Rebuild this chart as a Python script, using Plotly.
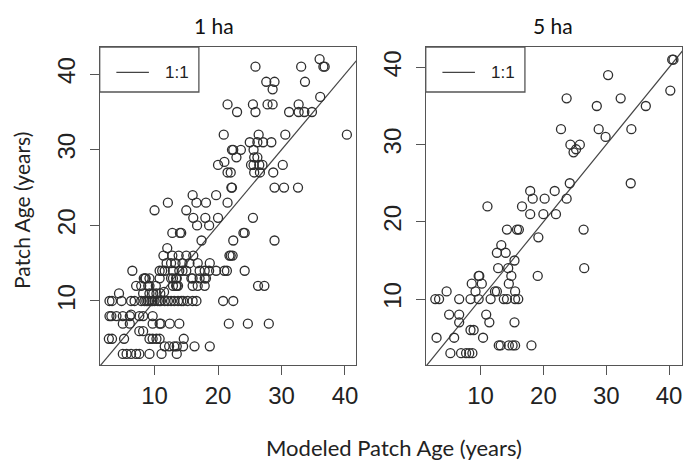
import plotly.graph_objects as go

# ---------------- data ----------------
panel_titles = ["1 ha", "5 ha"]
tick_values = [10, 20, 30, 40]
one_to_one = [0, 50]

ha1_pts = [
    (36, 42),
    (25.9, 41), (33.1, 41), (36.6, 41), (36.8, 41),
    (27.6, 39), (28.9, 39), (33.7, 39),
    (28.6, 38),
    (36.1, 37),
    (21.5, 36), (25.5, 36), (27.8, 36), (28.6, 36), (32.7, 36),
    (23, 35), (25.9, 35), (31.2, 35), (32.7, 35), (33.6, 35), (34.8, 35),
    (20.9, 32), (26.4, 32), (30.6, 32), (40.3, 32),
    (25, 31), (26.2, 31), (27.1, 31), (28.4, 31),
    (22.2, 30), (23.6, 30), (25.6, 30), (22.4, 30),
    (22.9, 29), (25.7, 29), (26.2, 29),
    (20, 28), (21, 28.4), (25.2, 28), (25.6, 28), (26.5, 28), (27, 28), (30.2, 28),
    (21.5, 27), (22, 27), (25.7, 27), (26.6, 27), (28.7, 27),
    (22.1, 25), (28.9, 25), (30.4, 25), (32.6, 25), (22.2, 25),
    (16, 24), (19.7, 24),
    (12.1, 23), (16.6, 23), (18.1, 23), (21.5, 23),
    (10, 22), (15, 22),
    (16.1, 21), (18, 21), (20, 21), (25.5, 21),
    (16.7, 20), (18.6, 20),
    (12.8, 19), (14.2, 19), (24, 19), (24.2, 19), (14.0, 19),
    (17.4, 18), (22.4, 18), (28.9, 18),
    (12, 17),
    (11.4, 16), (12.8, 16), (13.8, 16), (15, 16), (16.1, 16), (21.8, 16), (22.3, 16), (22.0, 16),
    (11.9, 15), (13.3, 15), (14.4, 15), (15.5, 15), (16.8, 15), (18.7, 15), (12.6, 15),
    (6.5, 14), (10.8, 14), (11.6, 14), (12.9, 14), (13.9, 14), (15, 14), (17.1, 14),
    (17.9, 14), (18.6, 14), (19.7, 14), (21, 14), (21.4, 14), (24.2, 14), (11.2, 14), (14.4, 14),
    (8.3, 13), (8.6, 13), (9.2, 13), (10.8, 13), (12.6, 13), (12.9, 13), (13.5, 13),
    (15.8, 13), (16, 13), (17.1, 13), (17.9, 13), (18.1, 13), (8.5, 13), (13.4, 13),
    (7.1, 12), (7.9, 12), (9.2, 12), (12.9, 12), (13.4, 12), (13.7, 12), (16, 12),
    (16.8, 12), (17.9, 12), (26.3, 12), (27.3, 12), (13.5, 12), (9.0, 12), (10.2, 12),
    (4.4, 11), (8.2, 11), (9.2, 11), (10.3, 11), (10.9, 11), (9.8, 11), (11.5, 11.2),
    (2.9, 10), (3.3, 10), (4.8, 10), (6.3, 10), (6.85, 10), (7.9, 10), (8.4, 10),
    (8.95, 10), (9.2, 10), (9.7, 10), (10, 10), (10.8, 10), (11.6, 10), (12.1, 10),
    (12.6, 10), (13.1, 10), (13.7, 10), (14.2, 10), (14.5, 10), (15.2, 10), (16, 10),
    (16.6, 10), (20.8, 10), (22.4, 10), (9.5, 10), (10.5, 10), (11.0, 10), (8.7, 10),
    (2.9, 8), (4, 8), (5, 8), (6.1, 8), (7.6, 8), (8.2, 8), (9.7, 8), (3.2, 8), (6.3, 8.2),
    (5, 7), (6.1, 7), (9.7, 7), (10.8, 7), (11, 7), (12.4, 7), (13.9, 7),
    (21.7, 7), (24.7, 7), (28, 7),
    (7.6, 6), (8.2, 6),
    (2.8, 5), (3.3, 5), (5.2, 5), (9.2, 5), (9.7, 5), (10.3, 5), (10.8, 5), (14.6, 5),
    (11.6, 4), (12.3, 4), (13.1, 4), (13.5, 4), (14.5, 4), (16.3, 4), (18.7, 4),
    (5, 3), (5.6, 3), (6.3, 3), (7.1, 3), (7.6, 3), (9.2, 3), (11.1, 3), (13.5, 3),
]
ha1_modeled = [p[0] for p in ha1_pts]
ha1_observed = [p[1] for p in ha1_pts]

ha5_pts = [
    (40.5, 41), (40.7, 41), (30.3, 39), (23.7, 36), (40.2, 37), (28.5, 35), (32.3, 36),
    (36.3, 35), (22.8, 32), (28.8, 32), (29.9, 31), (34, 32), (24.3, 30), (24.8, 29),
    (25.2, 29.4), (25.8, 30),
    (24.2, 25), (33.9, 25), (17.9, 24), (21.8, 24), (18.3, 23), (20.2, 23), (23.7, 23),
    (11.1, 22), (16.6, 22), (17.9, 21), (20, 21), (22, 21), (14.2, 19), (15.8, 19),
    (16.1, 19), (26.4, 19), (19.2, 18), (13.3, 17), (12.6, 16), (14, 16), (15.4, 15),
    (12.8, 14), (14.4, 14), (26.5, 14), (9.7, 13), (9.8, 13), (14.9, 13), (19.1, 13),
    (8.6, 12), (10.2, 12), (14.5, 12), (4.6, 11), (9.2, 11), (12.3, 11), (12.6, 11),
    (15.5, 11), (2.8, 10), (3.4, 10), (6.6, 10), (8.4, 10), (9.7, 10), (11.6, 10),
    (13.7, 10), (14.2, 10), (15.5, 10), (16, 10), (5, 8), (6.6, 8), (10.9, 8),
    (6.6, 7), (11.4, 7), (15.4, 7), (8.4, 6), (8.9, 6), (3, 5), (5.8, 5), (10.4, 5),
    (12.9, 4), (13.2, 4), (14.5, 4), (15.1, 4), (15.5, 4), (18.1, 4),
    (5.2, 3), (6.9, 3), (7.7, 3), (8.2, 3), (8.7, 3),
]
ha5_modeled = [p[0] for p in ha5_pts]
ha5_observed = [p[1] for p in ha5_pts]

# ---------------- figure ----------------
W, H = 686, 464
fig = go.Figure()

marker = dict(symbol="circle-open", size=9, color="#2e2e2e", line=dict(width=1.3, color="#2e2e2e"))
line_style = dict(color="#444444", width=1.2)

for i, (xs, ys) in enumerate([(ha1_modeled, ha1_observed), (ha5_modeled, ha5_observed)]):
    xa = "x" if i == 0 else "x2"
    ya = "y" if i == 0 else "y2"
    fig.add_trace(go.Scatter(x=one_to_one, y=one_to_one, mode="lines", line=line_style,
                             xaxis=xa, yaxis=ya, showlegend=False, hoverinfo="skip"))
    fig.add_trace(go.Scatter(x=xs, y=ys, mode="markers", marker=marker, cliponaxis=False,
                             xaxis=xa, yaxis=ya, showlegend=False))

tickfont = dict(family="Liberation Sans, Arial, sans-serif", size=24, color="#222222")
axis_common = dict(showline=True, mirror=True, linecolor="#555555", linewidth=1.4,
                   ticks="outside", ticklen=9, tickwidth=1.4, tickcolor="#555555",
                   tickvals=tick_values, tickfont=tickfont, showgrid=False, zeroline=False)

y_top = 1 - 47 / H
y_bot = 1 - 365 / H
fig.update_layout(
    width=W, height=H,
    margin=dict(l=0, r=0, t=0, b=0),
    paper_bgcolor="white", plot_bgcolor="white",
    xaxis=dict(domain=[100 / W, 357 / W], range=[1.36, 41.73], anchor="y", **axis_common),
    yaxis=dict(domain=[y_bot, y_top], range=[1.53, 43.6], anchor="x", tickangle=-90,
               ticklabelstandoff=5, **axis_common),
    xaxis2=dict(domain=[427 / W, 684 / W], range=[1.28, 42.06], anchor="y2", **axis_common),
    yaxis2=dict(domain=[y_bot, y_top], range=[1.47, 42.64], anchor="x2", tickangle=-90,
                ticklabelstandoff=5, **axis_common),
    showlegend=False,
)

# legends (box + line sample + label) in axis-domain coordinates
for xr, yr in [("x domain", "y domain"), ("x2 domain", "y2 domain")]:
    fig.add_shape(type="rect", xref=xr, yref=yr, x0=0, x1=0.387, y0=1 - 0.1415, y1=1,
                  line=dict(color="#555555", width=1.3), fillcolor="white", layer="above")
    fig.add_shape(type="line", xref=xr, yref=yr, x0=0.065, x1=0.192, y0=0.92, y1=0.92,
                  line=dict(color="#444444", width=1.2), layer="above")
    fig.add_annotation(xref=xr, yref=yr, x=0.30, y=0.92, text="1:1", showarrow=False,
                       font=dict(family="Liberation Sans, Arial, sans-serif", size=17, color="#222222"),
                       xanchor="center", yanchor="middle")

title_font = dict(family="Lato, sans-serif", size=21, color="#111111")
fig.add_annotation(xref="paper", yref="paper", x=215 / W, y=1 - 26 / H, text=panel_titles[0],
                   showarrow=False, font=title_font, xanchor="center", yanchor="middle")
fig.add_annotation(xref="paper", yref="paper", x=555 / W, y=1 - 26 / H, text=panel_titles[1],
                   showarrow=False, font=title_font, xanchor="center", yanchor="middle")

fig.add_annotation(xref="paper", yref="paper", x=395 / W, y=1 - 447 / H,
                   text="Modeled Patch Age (years)", showarrow=False,
                   font=dict(family="Lato, sans-serif", size=22, color="#222222"),
                   xanchor="center", yanchor="middle")
fig.add_annotation(xref="paper", yref="paper", x=21 / W, y=1 - 210 / H,
                   text="Patch Age (years)", showarrow=False,
                   font=dict(family="Lato, sans-serif", size=21, color="#222222"), textangle=-90,
                   xanchor="center", yanchor="middle")

fig.write_html("out.html")
